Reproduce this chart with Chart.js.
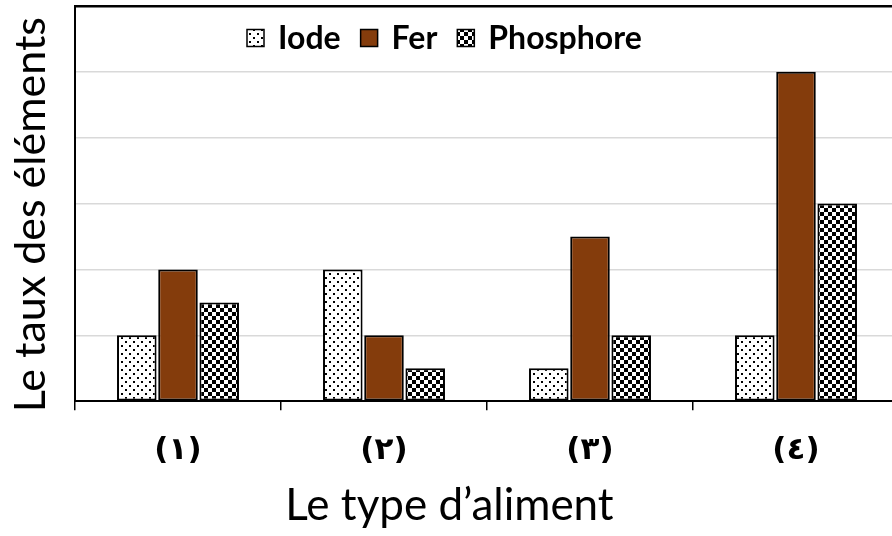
<!DOCTYPE html>
<html>
<head>
<meta charset="utf-8">
<script src="https://cdn.jsdelivr.net/npm/chart.js@4.4.1/dist/chart.umd.min.js"></script>
<style>
  html, body { margin: 0; padding: 0; background: #fff; overflow: hidden; }
  #wrap { width: 892px; height: 536px; overflow: hidden; }
</style>
</head>
<body>
<div id="wrap"><canvas id="chart" width="906" height="536"></canvas></div>
<script>
// data
const categories = ['(١)', '(٢)', '(٣)', '(٤)'];
const iodeValues = [1, 2, 0.5, 1];
const ferValues = [2, 1, 2.5, 5];
const phosphoreValues = [1.5, 0.5, 1, 3];
const yTicks = [0, 1, 2, 3, 4, 5, 6];

function makePattern(draw) {
    const tile = document.createElement('canvas');
    tile.width = 8;
    tile.height = 8;
    const g = tile.getContext('2d');
    g.fillStyle = '#fff';
    g.fillRect(0, 0, 8, 8);
    g.fillStyle = '#000';
    draw(g);
    return g.createPattern(tile, 'repeat');
}

const dots = makePattern(g => { g.fillRect(1, 1, 2, 2); g.fillRect(5, 5, 2, 2); });
const checker = makePattern(g => { g.fillRect(0, 0, 4, 4); g.fillRect(4, 4, 4, 4); });

// legend drawn inside the plot, near the top
const insideLegend = {
    id: 'insideLegend',
    afterDraw(chart) {
        const ctx = chart.ctx;
        const box = 17;
        const y = 38;
        let x = 247;
        ctx.save();
        ctx.font = 'bold 32px Lato';
        ctx.textBaseline = 'middle';
        chart.data.datasets.forEach(ds => {
            ctx.fillStyle = ds.backgroundColor;
            ctx.fillRect(x, y - box / 2, box, box);
            ctx.strokeStyle = '#000';
            ctx.lineWidth = 1.5;
            ctx.strokeRect(x, y - box / 2, box, box);
            ctx.fillStyle = '#000';
            ctx.fillText(ds.label, x + box + 14, y + 1);
            x += box + 14 + ctx.measureText(ds.label).width + 20;
        });
        ctx.restore();
    }
};

function build() {
    const ctx = document.getElementById('chart');
    return new Chart(ctx, {
        type: 'bar',
        data: {
            labels: categories,
            datasets: [
                {label: 'Iode', data: iodeValues, backgroundColor: dots},
                {label: 'Fer', data: ferValues, backgroundColor: '#843C0C'},
                {label: 'Phosphore', data: phosphoreValues, backgroundColor: checker}
            ]
        },
        options: {
            responsive: false,
            animation: false,
            devicePixelRatio: 1,
            layout: {padding: {top: 6, right: 7, left: 0, bottom: 0}},
            datasets: {
                bar: {
                    borderColor: '#000',
                    borderWidth: 2,
                    borderSkipped: false,
                    categoryPercentage: 0.6,
                    barPercentage: 0.96
                }
            },
            plugins: {
                legend: {display: false},
                tooltip: {enabled: false},
                title: {
                    display: true,
                    position: 'bottom',
                    text: 'Le type d’aliment',
                    color: '#000',
                    font: {family: 'Lato', size: 44, weight: 'normal'},
                    padding: {top: 0, bottom: 4}
                }
            },
            scales: {
                x: {
                    offset: true,
                    grid: {offset: true, drawOnChartArea: false, color: '#000', lineWidth: 1.5, tickLength: 9},
                    border: {color: '#000', width: 2},
                    ticks: {
                        color: '#000',
                        padding: 22,
                        font: {family: 'DejaVu Sans', weight: 'bold', size: 31}
                    },
                    afterFit(scale) { scale.height = 78; }
                },
                y: {
                    min: 0,
                    max: 6,
                    afterBuildTicks(scale) { scale.ticks = yTicks.map(v => ({value: v})); },
                    ticks: {display: false},
                    grid: {
                        drawTicks: false,
                        color: c => c.tick.value === 6 ? '#000' : '#d9d9d9',
                        lineWidth: c => c.tick.value === 6 ? 2.5 : 1.5
                    },
                    border: {color: '#000', width: 2},
                    title: {
                        display: true,
                        text: 'Le taux des éléments\u00a0\u00a0',
                        color: '#000',
                        font: {family: 'Lato', size: 43},
                        padding: {top: 5, bottom: 0}
                    },
                    afterFit(scale) { scale.width = 75; }
                }
            }
        },
        plugins: [insideLegend]
    });
}

Promise.all([
    document.fonts.load('43px Lato'),
    document.fonts.load('bold 32px Lato'),
    document.fonts.load('bold 31px "DejaVu Sans"')
]).then(build, build);
</script>
</body>
</html>
